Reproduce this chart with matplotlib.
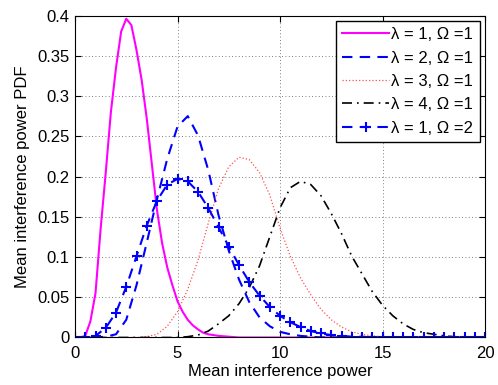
import numpy as np
import matplotlib.pyplot as plt

plt.rcParams['font.family'] = ['Liberation Sans', 'DejaVu Sans']

# lambda = 1, Omega = 1 (sampled every 0.25)
x1 = [0, 0.25, 0.5, 0.75, 1.0, 1.25, 1.5, 1.75, 2.0, 2.25, 2.5, 2.75, 3.0, 3.25,
      3.5, 3.75, 4.0, 4.25, 4.5, 4.75, 5.0, 5.25, 5.5, 5.75, 6.0, 6.25, 6.5,
      7.0, 7.5, 8.0, 10.0, 15.0, 20.0]
y1 = [0, 0, 0.002, 0.02, 0.055, 0.135, 0.205, 0.28, 0.335, 0.38, 0.396, 0.388,
      0.357, 0.32, 0.272, 0.215, 0.158, 0.117, 0.087, 0.065, 0.045, 0.032, 0.022,
      0.015, 0.01, 0.006, 0.004, 0.002, 0.001, 0, 0, 0, 0]

# 0.5 grid for the other curves
x = np.arange(0, 20.5, 0.5)
y2 = [0, 0, 0, 0.001, 0.004, 0.022, 0.065, 0.118, 0.172, 0.222, 0.262, 0.275,
      0.251, 0.208, 0.152, 0.108, 0.072, 0.044, 0.025, 0.014, 0.007, 0.004,
      0.002, 0.001] + [0] * 17
y3 = [0, 0, 0, 0, 0, 0, 0, 0.001, 0.004, 0.014, 0.032, 0.06, 0.096, 0.142,
      0.185, 0.212, 0.224, 0.221, 0.205, 0.177, 0.136, 0.101, 0.074, 0.053,
      0.035, 0.022, 0.013, 0.007, 0.004, 0.002, 0.001] + [0] * 10
y4 = [0] * 11 + [0.001, 0.003, 0.008, 0.017, 0.027, 0.042, 0.062, 0.089, 0.125,
      0.161, 0.186, 0.194, 0.190, 0.176, 0.154, 0.129, 0.101, 0.079, 0.057,
      0.040, 0.027, 0.017, 0.010, 0.006, 0.004, 0.002, 0.001, 0, 0, 0]
y5 = [0, 0, 0.002, 0.012, 0.031, 0.063, 0.101, 0.139, 0.170, 0.190, 0.197,
      0.194, 0.181, 0.161, 0.137, 0.113, 0.090, 0.069, 0.052, 0.038, 0.027,
      0.019, 0.013, 0.008, 0.005, 0.003, 0.002, 0.001, 0.001] + [0] * 12

labels = ["λ = 1, Ω =1", "λ = 2, Ω =1", "λ = 3, Ω =1", "λ = 4, Ω =1", "λ = 1, Ω =2"]

fig = plt.figure(figsize=(4.98, 3.85), dpi=100)
ax = fig.add_axes([0.1506, 0.1234, 0.8234, 0.8363])

ax.plot(x1, y1, "-", color="magenta", lw=1.5, label=labels[0])
ax.plot(x, y2, "--", color="blue", lw=1.5, dashes=(5, 3.5), label=labels[1])
ax.plot(x, y3, ":", color="#ff5050", lw=0.9, label=labels[2])
ax.plot(x, y4, "-.", color="black", lw=1.2, dashes=(6, 3, 1, 3), label=labels[3])
ax.plot(x, y5, "--+", color="blue", lw=1.5, dashes=(5, 3.5), ms=7, mew=1.5,
        label=labels[4])

ax.set_xlim(0, 20)
ax.set_ylim(0, 0.4)
ax.set_xticks([0, 5, 10, 15, 20])
ax.set_yticks([0, 0.05, 0.1, 0.15, 0.2, 0.25, 0.3, 0.35, 0.4])
ax.set_yticklabels(["0", "0.05", "0.1", "0.15", "0.2", "0.25", "0.3", "0.35", "0.4"])
ax.tick_params(direction="in", labelsize=12, top=True, right=True, length=4)
ax.tick_params(axis="x", pad=6)
ax.tick_params(axis="y", pad=4)
ax.grid(True, linestyle=(0, (1, 3)), color="#555555", lw=0.6)
ax.set_xlabel("Mean interference power", fontsize=12, labelpad=2)
ax.set_ylabel("Mean interference power PDF", fontsize=12, labelpad=5)

leg = ax.legend(loc="upper right", fontsize=12, fancybox=False, framealpha=1,
                edgecolor="black", handlelength=2.8, handletextpad=0.15,
                labelspacing=0.5, borderpad=0.4, borderaxespad=0.3)
leg.get_frame().set_linewidth(1.0)

fig.savefig("out.png", dpi=100)
